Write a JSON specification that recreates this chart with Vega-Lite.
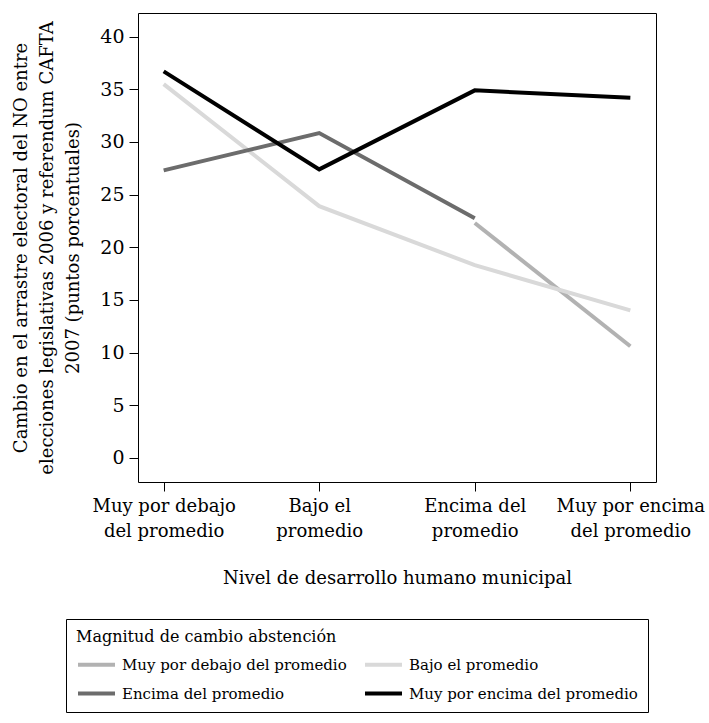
{
  "$schema": "https://vega.github.io/schema/vega-lite/v6.json",
  "autosize": "none",
  "width": 518,
  "height": 469,
  "padding": {"left": 138, "top": 13, "right": 53, "bottom": 241},
  "background": "white",
  "config": {
    "view": {"stroke": "#000", "strokeWidth": 1},
    "font": "DejaVu Serif",
    "axis": {"labelFont": "DejaVu Serif", "titleFont": "DejaVu Serif", "labelColor": "#000", "titleColor": "#000", "tickColor": "#000", "titleFontWeight": "normal"},
    "legend": {"labelFont": "DejaVu Serif", "titleFont": "DejaVu Serif"}
  },
  "data": {
    "values": [
      {"serie": "Muy por debajo del promedio", "nivel": "Encima del promedio", "valor": 22.3},
      {"serie": "Muy por debajo del promedio", "nivel": "Muy por encima del promedio", "valor": 10.6},
      {"serie": "Bajo el promedio", "nivel": "Muy por debajo del promedio", "valor": 35.5},
      {"serie": "Bajo el promedio", "nivel": "Bajo el promedio", "valor": 23.9},
      {"serie": "Bajo el promedio", "nivel": "Encima del promedio", "valor": 18.3},
      {"serie": "Bajo el promedio", "nivel": "Muy por encima del promedio", "valor": 14.0},
      {"serie": "Encima del promedio", "nivel": "Muy por debajo del promedio", "valor": 27.3},
      {"serie": "Encima del promedio", "nivel": "Bajo el promedio", "valor": 30.85},
      {"serie": "Encima del promedio", "nivel": "Encima del promedio", "valor": 22.75},
      {"serie": "Muy por encima del promedio", "nivel": "Muy por debajo del promedio", "valor": 36.7},
      {"serie": "Muy por encima del promedio", "nivel": "Bajo el promedio", "valor": 27.4},
      {"serie": "Muy por encima del promedio", "nivel": "Encima del promedio", "valor": 34.9},
      {"serie": "Muy por encima del promedio", "nivel": "Muy por encima del promedio", "valor": 34.2}
    ]
  },
  "mark": {"type": "line", "strokeWidth": 4, "strokeCap": "butt", "strokeJoin": "miter"},
  "encoding": {
    "x": {
      "field": "nivel",
      "type": "nominal",
      "sort": ["Muy por debajo del promedio", "Bajo el promedio", "Encima del promedio", "Muy por encima del promedio"],
      "scale": {"type": "point", "padding": 0.165},
      "axis": {
        "title": "Nivel de desarrollo humano municipal",
        "titleFontSize": 18,
        "titlePadding": 29,
        "labelFontSize": 18,
        "labelLineHeight": 25,
        "labelPadding": 6,
        "tickSize": 9,
        "domain": false,
        "grid": false,
        "labelAngle": 0,
        "labelExpr": "datum.label == 'Muy por debajo del promedio' ? ['Muy por debajo', 'del promedio'] : datum.label == 'Bajo el promedio' ? ['Bajo el', 'promedio'] : datum.label == 'Encima del promedio' ? ['Encima del', 'promedio'] : ['Muy por encima', 'del promedio']"
      }
    },
    "y": {
      "field": "valor",
      "type": "quantitative",
      "scale": {"domain": [-2.3, 42.25], "nice": false, "zero": false},
      "axis": {
        "title": ["Cambio en el arrastre electoral del NO entre", "elecciones legislativas 2006 y referendum CAFTA", "2007 (puntos porcentuales)"],
        "titleFontSize": 18,
        "titleLineHeight": 26,
        "titlePadding": 17,
        "labelFontSize": 19,
        "labelPadding": 5,
        "tickSize": 9,
        "values": [0, 5, 10, 15, 20, 25, 30, 35, 40],
        "domain": false,
        "grid": false
      }
    },
    "color": {
      "field": "serie",
      "type": "nominal",
      "sort": ["Muy por debajo del promedio", "Bajo el promedio", "Encima del promedio", "Muy por encima del promedio"],
      "scale": {
        "domain": ["Muy por debajo del promedio", "Bajo el promedio", "Encima del promedio", "Muy por encima del promedio"],
        "range": ["#b2b2b2", "#d9d9d9", "#6c6c6c", "#000000"]
      },
      "legend": {
        "title": "Magnitud de cambio abstención",
        "orient": "none",
        "legendX": -72,
        "legendY": 606,
        "direction": "horizontal",
        "columns": 2,
        "titleFontSize": 16,
        "titleFontWeight": "normal",
        "titleColor": "#000",
        "titleLimit": 500,
        "labelFontSize": 15,
        "labelColor": "#000",
        "symbolType": "M-1,0H1",
        "symbolSize": 1369,
        "symbolStrokeWidth": 4,
        "symbolOffset": 0,
        "labelOffset": 5,
        "columnPadding": 10,
        "rowPadding": -3,
        "titlePadding": -1,
        "padding": 10,
        "strokeColor": "#000",
        "labelLimit": 400
      }
    }
  }
}
